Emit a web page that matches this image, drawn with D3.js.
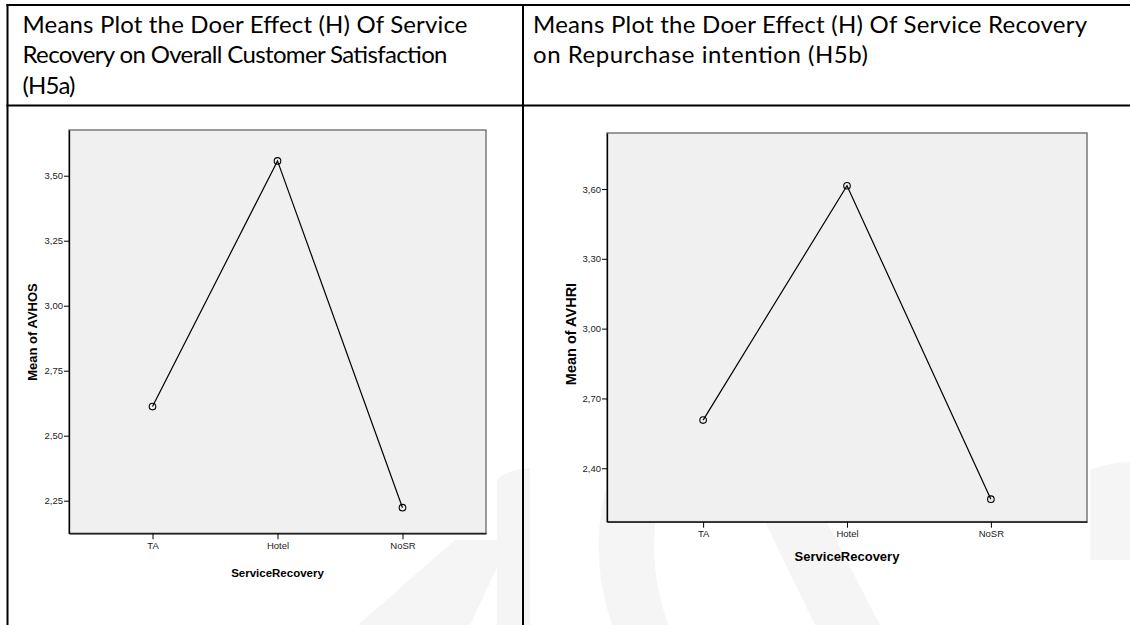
<!DOCTYPE html>
<html>
<head>
<meta charset="utf-8">
<script src="https://cdn.jsdelivr.net/npm/d3@7"></script>
<style>
  html, body { margin: 0; padding: 0; background: #fff; }
  svg { display: block; }
</style>
</head>
<body>
<div id="chart"></div>
<script>
// ---------- data ----------
const categories = ["TA", "Hotel", "NoSR"];
const avhosMeans = [2.612, 3.557, 2.223];
const avhriMeans = [2.607, 3.614, 2.267];
const avhosTicks = [2.25, 2.50, 2.75, 3.00, 3.25, 3.50];
const avhriTicks = [2.40, 2.70, 3.00, 3.30, 3.60];
const avhosDomain = [2.1246, 3.6758];
const avhriDomain = [2.1703, 3.8407];
const leftHeader = ["Means Plot the Doer Effect (H) Of Service",
                    "Recovery on Overall Customer Satisfaction",
                    "(H5a)"];
const rightHeader = ["Means Plot the Doer Effect (H) Of Service Recovery",
                     "on Repurchase intention (H5b)"];
const xTitle = "ServiceRecovery";
const avhosTitle = "Mean of AVHOS";
const avhriTitle = "Mean of AVHRI";

// ---------- canvas ----------
const W = 1130, H = 625;
const svg = d3.select("#chart").append("svg").attr("width", W).attr("height", H);
svg.append("rect").attr("width", W).attr("height", H).attr("fill", "#fff");

// faint watermark shapes
const wm = svg.append("g").attr("fill", "#f5f5f5");
wm.append("path").attr("d", "M497,480 Q505,470 530,468 L530,625 L497,625 Z");
wm.append("path").attr("d", "M612,470 Q585,545 612,625 L668,625 Q640,545 668,470 Z");
wm.append("path").attr("d", "M740,470 L800,470 L880,625 L815,625 Z");
wm.append("path").attr("d", "M358,625 L470,625 L510,540 L455,540 Z");
wm.append("path").attr("d", "M1090,470 Q1110,462 1130,462 L1130,560 L1090,560 Z");

// ---------- table lines ----------
const tbl = svg.append("g").attr("stroke", "#000").attr("stroke-width", 2);
tbl.append("line").attr("x1", 6.5).attr("x2", W).attr("y1", 5).attr("y2", 5);
tbl.append("line").attr("x1", 6.5).attr("x2", W).attr("y1", 105.5).attr("y2", 105.5);
tbl.append("line").attr("x1", 7.5).attr("x2", 7.5).attr("y1", 4).attr("y2", H);
tbl.append("line").attr("x1", 523).attr("x2", 523).attr("y1", 4).attr("y2", H);

// header texts
function header(lines, x, widths) {
  const g = svg.append("g");
  g.selectAll("text").data(lines).join("text")
    .attr("x", x)
    .attr("y", (d, i) => 32.5 + i * 30.5)
    .attr("font-family", "Lato, 'Open Sans', sans-serif")
    .attr("font-size", 24)
    .attr("fill", "#000")
    .attr("textLength", (d, i) => widths[i])
    .attr("lengthAdjust", "spacing")
    .text(d => d);
}
header(leftHeader, 22.5, [445, 425, 53]);
header(rightHeader, 533, [554, 335]);

// ---------- plots ----------
const fmt = d3.formatLocale({decimal: ",", thousands: ".", grouping: [3], currency: ["", ""]}).format(".2f");

function meansPlot(cfg) {
  const {x0, x1, y0, y1, values, ticks, domain, yTitle, yTitleX, yTitleY, yTitleSize,
         tickSize, xLabelY, xTitleY, xTitleSize} = cfg;
  const g = svg.append("g");
  const x = d3.scalePoint().domain(categories).range([x0, x1]).padding(0.668);
  const y = d3.scaleLinear().domain(domain).range([y1, y0]);

  g.append("rect").attr("x", x0).attr("y", y0).attr("width", x1 - x0).attr("height", y1 - y0)
    .attr("fill", "#f0f0f0").attr("stroke", "#7a7a7a").attr("stroke-width", 1.5);

  const ya = g.append("g").attr("transform", `translate(${x0},0)`)
    .call(d3.axisLeft(y).tickValues(ticks).tickFormat(fmt).tickSize(5).tickSizeOuter(0));
  ya.select(".domain").attr("stroke", "#000").attr("stroke-width", 1.3);
  ya.selectAll(".tick line").attr("stroke", "#000");
  ya.selectAll(".tick text").attr("font-family", "'Liberation Sans', Arial, sans-serif")
    .attr("font-size", tickSize).attr("fill", "#222").attr("x", -6);

  const xa = g.append("g").attr("transform", `translate(0,${y1})`)
    .call(d3.axisBottom(x).tickSize(6).tickSizeOuter(0));
  xa.select(".domain").attr("stroke", "#000").attr("stroke-width", 1.3);
  xa.selectAll(".tick line").attr("stroke", "#000");
  xa.selectAll(".tick text").attr("font-family", "'Liberation Sans', Arial, sans-serif")
    .attr("font-size", tickSize).attr("fill", "#222").attr("y", xLabelY);

  const pts = categories.map((c, i) => [x(c), y(values[i])]);
  g.append("path").attr("d", d3.line()(pts))
    .attr("fill", "none").attr("stroke", "#000").attr("stroke-width", 1.2);
  g.selectAll("circle").data(pts).join("circle")
    .attr("cx", d => d[0]).attr("cy", d => d[1]).attr("r", 3.3)
    .attr("fill", "none").attr("stroke", "#000").attr("stroke-width", 1.1);

  g.append("text")
    .attr("transform", `translate(${yTitleX},${yTitleY}) rotate(-90)`)
    .attr("text-anchor", "middle")
    .attr("font-family", "'Liberation Sans', Arial, sans-serif")
    .attr("font-weight", "bold").attr("font-size", yTitleSize).attr("fill", "#000")
    .text(yTitle);
  g.append("text")
    .attr("x", (x0 + x1) / 2).attr("y", xTitleY)
    .attr("text-anchor", "middle")
    .attr("font-family", "'Liberation Sans', Arial, sans-serif")
    .attr("font-weight", "bold").attr("font-size", xTitleSize).attr("fill", "#000")
    .text(xTitle);
}

meansPlot({x0: 69, x1: 486, y0: 130, y1: 533.3, values: avhosMeans, ticks: avhosTicks,
  domain: avhosDomain, yTitle: avhosTitle, yTitleX: 37, yTitleY: 332, yTitleSize: 13,
  tickSize: 9.5, xLabelY: 9, xTitleY: 577, xTitleSize: 11.5});
meansPlot({x0: 607, x1: 1087, y0: 133, y1: 521.7, values: avhriMeans, ticks: avhriTicks,
  domain: avhriDomain, yTitle: avhriTitle, yTitleX: 576, yTitleY: 334, yTitleSize: 14.5,
  tickSize: 9.5, xLabelY: 9, xTitleY: 561, xTitleSize: 13});
</script>
</body>
</html>
